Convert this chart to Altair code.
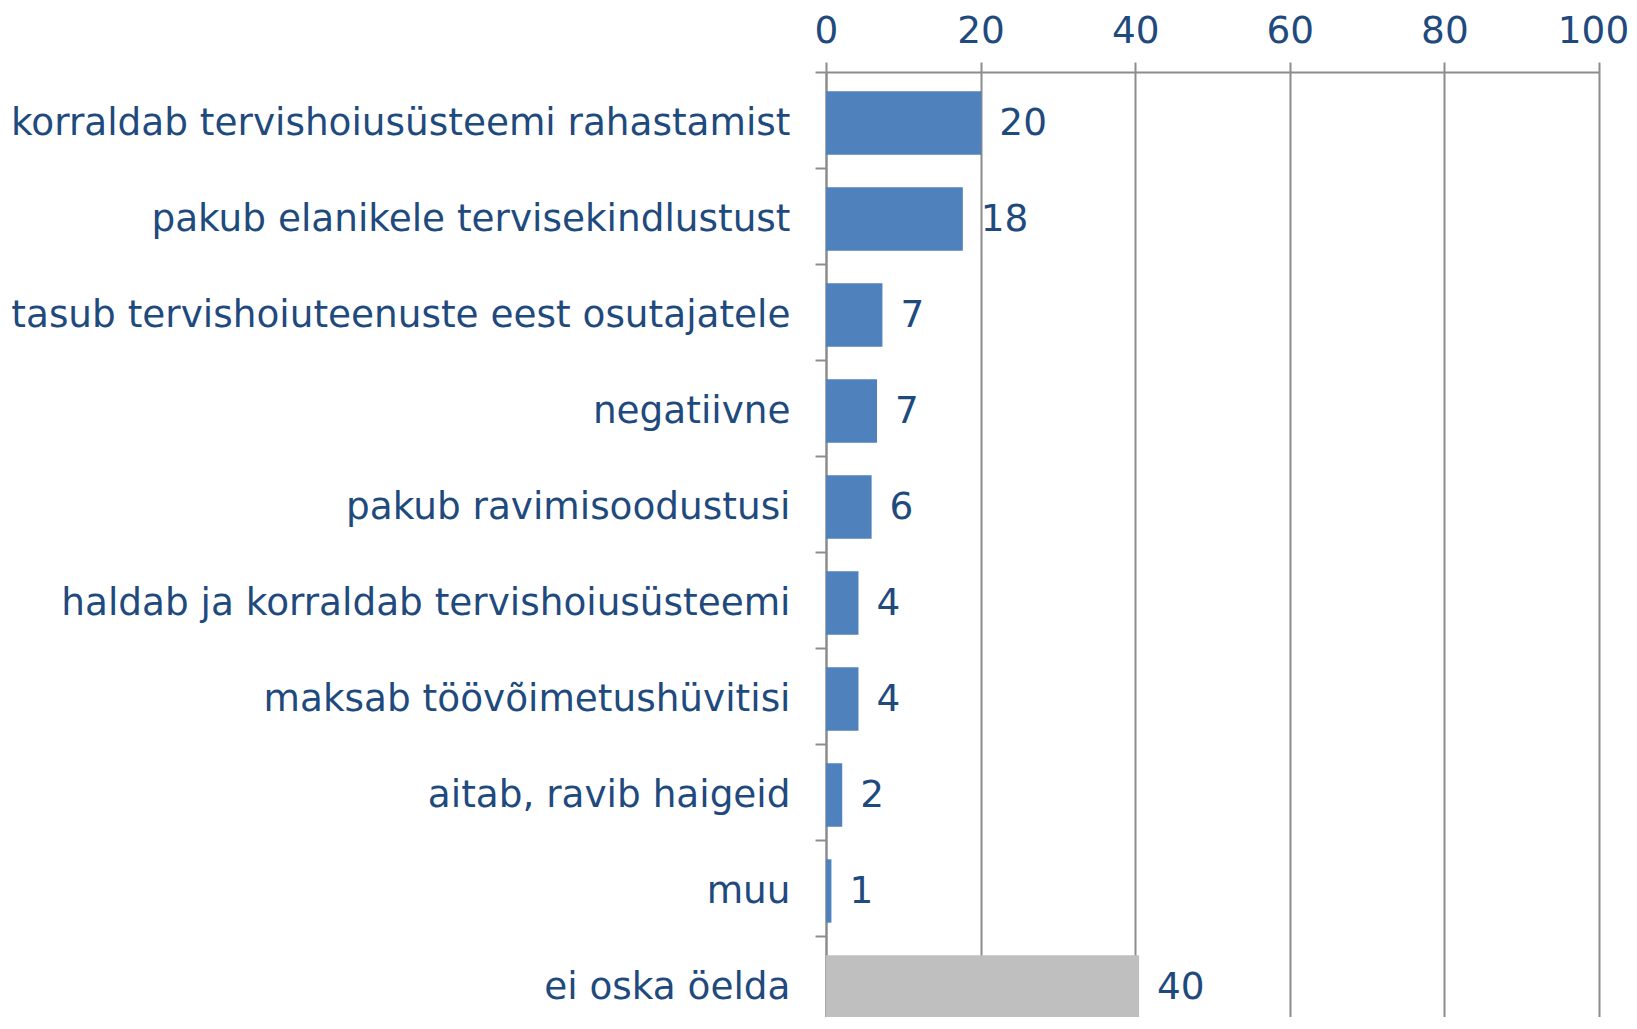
import altair as alt
import pandas as pd

categories = [
    "korraldab tervishoiusüsteemi rahastamist",
    "pakub elanikele tervisekindlustust",
    "tasub tervishoiuteenuste eest osutajatele",
    "negatiivne",
    "pakub ravimisoodustusi",
    "haldab ja korraldab tervishoiusüsteemi",
    "maksab töövõimetushüvitisi",
    "aitab, ravib haigeid",
    "muu",
    "ei oska öelda",
]
values = [20.1, 17.7, 7.3, 6.6, 5.9, 4.2, 4.2, 2.1, 0.7, 40.5]
labels = ["20", "18", "7", "7", "6", "4", "4", "2", "1", "40"]
groups = ["vastus"] * 9 + ["ei oska"]

df = pd.DataFrame({"cat": categories, "val": values, "lab": labels, "grp": groups})

TXT = "#1F4A7E"
GRID = "#8C8C8C"
FONT = "DejaVu Sans"
FS = 37.4

y_scale = alt.Scale(range=[0, 960], paddingInner=0, paddingOuter=0)

y_enc = alt.Y(
    "cat:N",
    sort=categories,
    title=None,
    scale=y_scale,
    axis=alt.Axis(
        labelFont=FONT, labelFontSize=FS, labelColor=TXT, labelPadding=25,
        labelOffset=3,
        tickSize=11, tickColor=GRID, tickWidth=2, tickBand="extent",
        domainColor=GRID, domainWidth=2, labelLimit=900,
    ),
)

bars = alt.Chart(df).mark_bar(height=alt.RelativeBandSize(0.66), yOffset=3).encode(
    x=alt.X(
        "val:Q",
        title=None,
        scale=alt.Scale(domain=[0, 100], nice=False),
        axis=alt.Axis(
            orient="top", values=[0, 20, 40, 60, 80, 100],
            labelFont=FONT, labelFontSize=FS, labelColor=TXT, labelPadding=12,
            labelFlush=False,
            labelOffset={"condition": {"test": "datum.value == 100", "value": -6}, "value": 0},
            tickSize=10, tickColor=GRID, tickWidth=2,
            domainColor=GRID, domainWidth=2,
            grid=True, gridColor=GRID, gridWidth=2,
        ),
    ),
    y=y_enc,
    color=alt.Color(
        "grp:N",
        scale=alt.Scale(domain=["vastus", "ei oska"], range=["#4F81BD", "#BFBFBF"]),
        legend=None,
    ),
)

text = alt.Chart(df).mark_text(
    align="left", baseline="middle", dx=18, dy=4, font=FONT, fontSize=FS, color=TXT
).encode(
    x="val:Q",
    y=alt.Y("cat:N", sort=categories),
    text="lab:N",
)

chart = (
    alt.layer(bars, text)
    .properties(
        width=773,
        height=945,
        autosize=alt.AutoSizeParams(type="none"),
        padding={"left": 818, "top": 64, "right": 30, "bottom": 0},
    )
    .configure_view(stroke=None)
    .configure(background="white")
)

chart.save("out.html", embed_options={"renderer": "svg", "actions": False})
